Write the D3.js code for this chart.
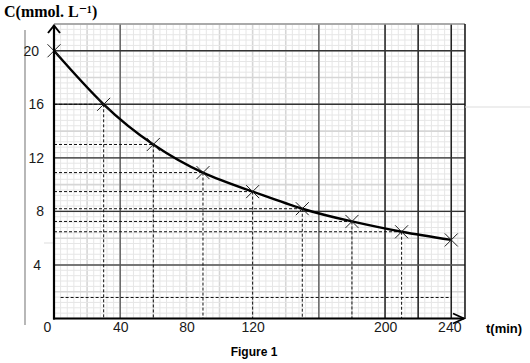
<!DOCTYPE html>
<html><head><meta charset="utf-8">
<script src="https://cdn.jsdelivr.net/npm/d3@7"></script>
<style>body{margin:0;background:#fff}svg{display:block}</style>
</head><body>
<svg id="c" width="530" height="363"></svg>
<script>
// ---- data ----
const times = [0, 30, 60, 90, 120, 150, 180, 210, 240];
const conc  = [20, 16, 13, 10.9, 9.48, 8.2, 7.25, 6.48, 5.87];
const guideTimes = [30, 60, 90, 120, 150, 180, 210];
const xTicks = [0, 40, 80, 120, 200, 240];
const yTicks = [4, 8, 12, 16, 20];
const majorXLines = [40, 160, 200, 220, 240];
const majorYLines = [4, 8, 12, 16, 20];
const bottomDashC = 1.57;
const bottomDashT = [4, 240];
const yTitle = "C(mmol. L⁻¹)";
const xTitle = "t(min)";
const caption = "Figure 1";

const svg = d3.select("#c");
const x = d3.scaleLinear().domain([0, 248.3]).range([54, 465]);
const y = d3.scaleLinear().domain([0, 22]).range([318.5, 24]);

// graph paper grid
const g = svg.append("g");
const minorX = d3.range(0, 248.3, 4);
const minorY = d3.range(0, 22.01, 0.4);
g.selectAll(".vx").data(minorX).join("line")
  .attr("x1", d => x(d)).attr("x2", d => x(d)).attr("y1", y(22)).attr("y2", y(0))
  .attr("stroke", (d, i) => i % 5 === 0 ? "#d6d6d6" : "#e6e6e6")
  .attr("stroke-width", (d, i) => i % 5 === 0 ? 1.6 : 1);
g.selectAll(".hy").data(minorY).join("line")
  .attr("y1", d => y(d)).attr("y2", d => y(d)).attr("x1", x(0)).attr("x2", x(248.3))
  .attr("stroke", (d, i) => i % 5 === 0 ? "#d6d6d6" : "#e6e6e6")
  .attr("stroke-width", (d, i) => i % 5 === 0 ? 1.6 : 1);

// major lines
g.selectAll(".mx").data(majorXLines).join("line")
  .attr("x1", d => x(d)).attr("x2", d => x(d)).attr("y1", y(22)).attr("y2", y(0))
  .attr("stroke", d => d === 160 || d === 40 ? "#666" : "#222").attr("stroke-width", 1.5);
g.selectAll(".my").data(majorYLines).join("line")
  .attr("y1", d => y(d)).attr("y2", d => y(d)).attr("x1", x(0)).attr("x2", x(248.3))
  .attr("stroke", d => d === 4 ? "#555" : "#333").attr("stroke-width", 1.4);

// frame top and right
svg.append("line").attr("x1", x(0)).attr("x2", x(248.3)).attr("y1", y(22)).attr("y2", y(22))
  .attr("stroke", "#999").attr("stroke-width", 1.5);
svg.append("line").attr("x1", x(248.3)).attr("x2", x(248.3)).attr("y1", y(22)).attr("y2", y(0))
  .attr("stroke", "#111").attr("stroke-width", 1.5);

// stray scan lines
svg.append("line").attr("x1", 25).attr("x2", 25).attr("y1", 30).attr("y2", 325)
  .attr("stroke", "#888").attr("stroke-width", 1.2);
svg.append("line").attr("x1", x(248.3)).attr("x2", 530).attr("y1", 107).attr("y2", 107)
  .attr("stroke", "#ddd").attr("stroke-width", 1);
svg.append("line").attr("x1", 44).attr("x2", 54).attr("y1", 243).attr("y2", 243)
  .attr("stroke", "#ddd").attr("stroke-width", 1);

// dashed guides
const pts = times.map((t, i) => ({t, c: conc[i]}));
const guides = pts.filter(p => guideTimes.includes(p.t));
const dash = "3,2";
svg.selectAll(".gh").data(guides).join("line")
  .attr("x1", x(0)).attr("x2", d => x(d.t)).attr("y1", d => y(d.c)).attr("y2", d => y(d.c))
  .attr("stroke", "#111").attr("stroke-width", 1).attr("stroke-dasharray", dash);
svg.selectAll(".gv").data(guides).join("line")
  .attr("x1", d => x(d.t)).attr("x2", d => x(d.t)).attr("y1", d => y(d.c)).attr("y2", y(0))
  .attr("stroke", "#111").attr("stroke-width", 1).attr("stroke-dasharray", dash);
svg.append("line").attr("x1", x(bottomDashT[0])).attr("x2", x(bottomDashT[1]))
  .attr("y1", y(bottomDashC)).attr("y2", y(bottomDashC))
  .attr("stroke", "#111").attr("stroke-width", 1).attr("stroke-dasharray", dash);

// curve
const line = d3.line().x(d => x(d.t)).y(d => y(d.c)).curve(d3.curveNatural);
svg.append("path").datum(pts).attr("d", line).attr("fill", "none")
  .attr("stroke", "#000").attr("stroke-width", 2.4);

// crosses
const s = 6.5;
const cg = svg.selectAll(".cr").data(pts).join("g")
  .attr("transform", d => `translate(${x(d.t)},${y(d.c)})`);
cg.append("line").attr("x1", -s).attr("y1", -s).attr("x2", s).attr("y2", s).attr("stroke", "#222").attr("stroke-width", 1);
cg.append("line").attr("x1", -s).attr("y1", s).attr("x2", s).attr("y2", -s).attr("stroke", "#222").attr("stroke-width", 1);

// axes lines with arrows
svg.append("line").attr("x1", x(0)).attr("x2", x(0)).attr("y1", y(0) + 1).attr("y2", 25)
  .attr("stroke", "#000").attr("stroke-width", 2.2);
svg.append("path").attr("d", `M48,33 L54,25.5 L60,33`).attr("fill", "none")
  .attr("stroke", "#000").attr("stroke-width", 2);
svg.append("line").attr("x1", x(0) - 1).attr("x2", 464).attr("y1", y(0)).attr("y2", y(0))
  .attr("stroke", "#000").attr("stroke-width", 2.2);
svg.append("path").attr("d", `M453,313.5 L464,318.5 L453,323.5`).attr("fill", "none")
  .attr("stroke", "#000").attr("stroke-width", 1.8);

// tick labels via axes
const xa = svg.append("g").attr("transform", `translate(0,${y(0)})`)
  .call(d3.axisBottom(x).tickValues(xTicks).tickSize(0).tickPadding(4).tickFormat(d3.format("d")));
xa.select(".domain").remove();
xa.selectAll("text").attr("font-family", "Liberation Sans, Arial, sans-serif").attr("font-size", 14)
  .attr("fill", "#1a1a1a").attr("dx", d => d === 0 ? -7 : (d === 240 ? -2 : 0));
const ya = svg.append("g").attr("transform", `translate(${x(0)},0)`)
  .call(d3.axisLeft(y).tickValues(yTicks).tickSize(0).tickPadding(10).tickFormat(d3.format("d")));
ya.select(".domain").remove();
ya.selectAll("text").attr("font-family", "Liberation Sans, Arial, sans-serif").attr("font-size", 14)
  .attr("fill", "#1a1a1a").attr("dx", d => d === 20 ? -5 : (d === 4 ? -3 : 0));

// titles
svg.append("text").attr("x", 4).attr("y", 17).text(yTitle)
  .attr("font-family", "Liberation Serif, DejaVu Serif, serif").attr("font-weight", "bold").attr("font-size", 16);
svg.append("text").attr("x", 486).attr("y", 333).text(xTitle)
  .attr("font-family", "Liberation Sans, Arial, sans-serif").attr("font-weight", "bold").attr("font-size", 13);
svg.append("text").attr("x", 254).attr("y", 356).attr("text-anchor", "middle").text(caption)
  .attr("font-family", "Liberation Sans, Arial, sans-serif").attr("font-weight", "bold").attr("font-size", 12);
</script>
</body></html>
